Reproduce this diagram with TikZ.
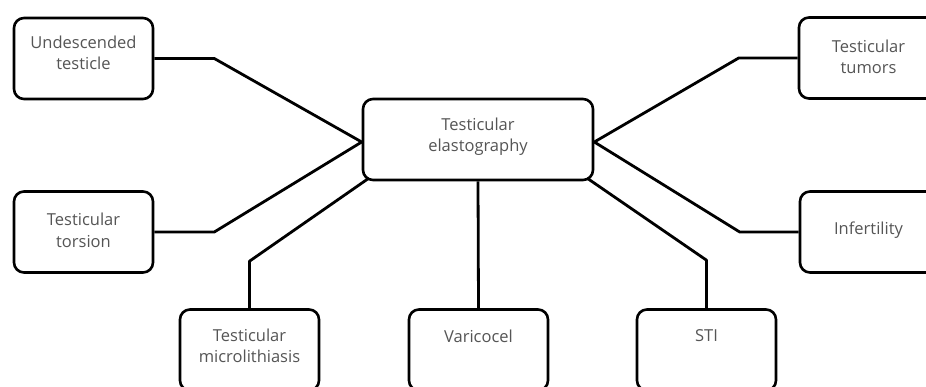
\documentclass[tikz,border=0pt]{standalone}
\usepackage{fontspec}
\setmainfont{Open Sans}
\begin{document}
\begin{tikzpicture}[x=1pt,y=-1pt,
  box/.style={draw=black,line width=2.6pt,rounded corners=10pt,fill=white,
    minimum width=139pt,minimum height=81pt,inner sep=0pt},
  lbl/.style={inner sep=0pt,align=center,text=txtgray,
    font=\fontsize{16.5}{21.5}\selectfont},
  link/.style={draw=black,line width=2.8pt,line join=round}]
\definecolor{txtgray}{HTML}{555555}
\useasboundingbox (0,0) rectangle (926,387);
\clip (0,0) rectangle (926,387);
\node[box,minimum width=230pt] (c) at (478,139.5) {};
\node[box] (und) at (83.5,58.5) {};
\node[box] (tor) at (83.5,232) {};
\node[box] (mic) at (249.5,350) {};
\node[box] (var) at (478.5,350) {};
\node[box] (sti) at (706.5,350) {};
\node[box] (tum) at (868.5,58) {};
\node[box] (inf) at (869.5,232) {};
\node[lbl] (ct) at (478,136.5) {Testicular\\elastography};
\node[lbl] (undt) at (83.5,53) {Undescended\\testicle};
\node[lbl] (tort) at (83.5,230.5) {Testicular\\torsion};
\node[lbl] (mict) at (249.5,346) {Testicular\\microlithiasis};
\node[lbl] (vart) at (478.5,336) {Varicocel};
\node[lbl] (stit) at (706.5,336) {STI};
\node[lbl] (tumt) at (868.5,57) {Testicular\\tumors};
\node[lbl] (inft) at (868.5,230) {Infertility};
\coordinate (cl) at ([yshift=-2.5pt]c.west);
\coordinate (cr) at ([yshift=-2.5pt]c.east);
\draw[link] (und.east) -- ++(60,0) -- (cl);
\draw[link] (tor.east) -- ++(60,0) -- (cl);
\draw[link] (tum.west) -- ++(-59,0) -- (cr);
\draw[link] (inf.west) -- ++(-59,0) -- (cr);
\draw[link] (mic.north) -- ++(0,-47) -- ([xshift=7pt,yshift=3pt]c.south west);
\draw[link] (sti.north) -- ++(0,-48) -- ([xshift=-7pt,yshift=3pt]c.south east);
\draw[link] (c.south) -- (var.north);
\end{tikzpicture}
\end{document}
